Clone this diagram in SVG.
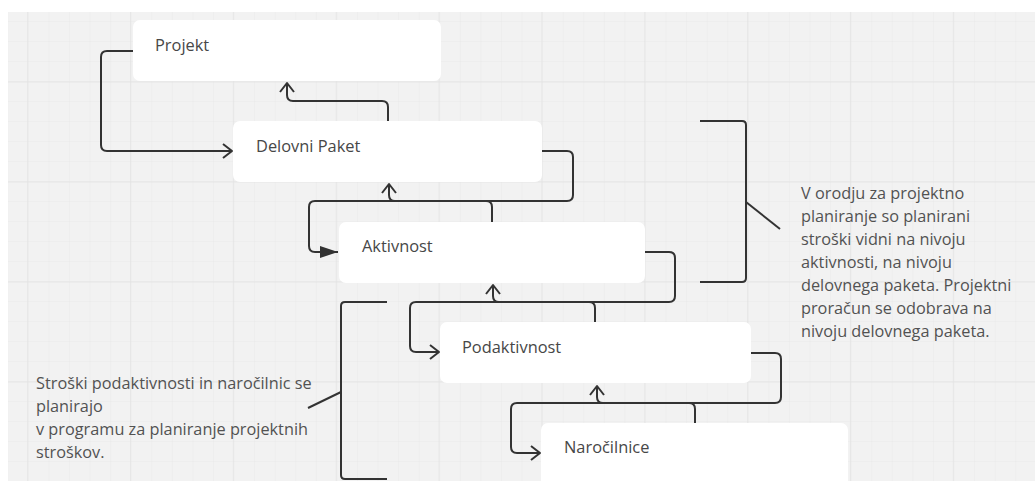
<svg xmlns="http://www.w3.org/2000/svg" width="1035" height="481" viewBox="0 0 1035 481">
  <style>
    .node rect { fill: #ffffff; }
    .label { font-family: "Open Sans", "Liberation Sans", sans-serif; font-size: 16.4px; fill: #474747; }
    .note { font-family: "Open Sans", "Liberation Sans", sans-serif; font-size: 16.3px; fill: #525252; }
    .edge { fill: none; stroke: #333333; stroke-width: 2; stroke-linejoin: round; }
    .brace { fill: none; stroke: #333333; stroke-width: 2; }
  </style>
  <defs>
    <pattern id="minor" x="7.3" y="1" width="20.57" height="20" patternUnits="userSpaceOnUse">
      <path d="M0,0 V20 M0,0 H20.57" fill="none" stroke="#e9e9e9" stroke-width="1"/>
    </pattern>
    <pattern id="major" x="130" y="81.5" width="102.85" height="100" patternUnits="userSpaceOnUse">
      <path d="M0,0 V100 M0,0 H102.85" fill="none" stroke="#e2e2e2" stroke-width="1.4"/>
    </pattern>
    <marker id="chev" viewBox="-12 -10 14 20" refX="0" refY="0" markerWidth="14" markerHeight="20" markerUnits="userSpaceOnUse" orient="auto">
      <path d="M-9,-7 L0,0 L-9,7" fill="none" stroke="#333333" stroke-width="2" stroke-linejoin="round"/>
    </marker>
    <marker id="tri" viewBox="-20 -8 21 16" refX="0" refY="0" markerWidth="21" markerHeight="16" markerUnits="userSpaceOnUse" orient="auto">
      <path d="M-18,-6 L0,0 L-18,6 Z" fill="#333333"/>
    </marker>
  </defs>

  <!-- canvas -->
  <rect width="1035" height="481" fill="#ffffff"/>
  <rect x="8" y="12" width="1027" height="469" fill="#f2f2f2"/>
  <rect x="8" y="12" width="1027" height="469" fill="url(#minor)"/>
  <rect x="8" y="12" width="1027" height="469" fill="url(#major)"/>

  <!-- hierarchy levels -->
  <g id="projekt" class="node">
    <rect x="133" y="20" width="308" height="61" rx="7"/>
    <text class="label" x="155" y="51">Projekt</text>
  </g>
  <g id="delovni-paket" class="node">
    <rect x="233" y="121" width="309" height="61" rx="7"/>
    <text class="label" x="256" y="152">Delovni Paket</text>
  </g>
  <g id="aktivnost" class="node">
    <rect x="339" y="222" width="306" height="61" rx="7"/>
    <text class="label" x="362" y="252">Aktivnost</text>
  </g>
  <g id="podaktivnost" class="node">
    <rect x="440" y="322" width="311" height="61" rx="7"/>
    <text class="label" x="462" y="353">Podaktivnost</text>
  </g>
  <g id="narocilnice" class="node">
    <rect x="541" y="423" width="307" height="70" rx="7"/>
    <text class="label" x="564" y="453">Naročilnice</text>
  </g>

  <!-- connectors between levels -->
  <g id="connectors">
    <path class="edge" marker-end="url(#chev)" d="M133,51 H107 Q101,51 101,57 V145 Q101,151 107,151 H232"/>
    <path class="edge" marker-end="url(#chev)" d="M388,121 V107 Q388,101 382,101 H293 Q287,101 287,95 V83"/>
    <path class="edge" marker-end="url(#tri)" d="M542,151 H567 Q573,151 573,157 V195 Q573,201 567,201 H315 Q309,201 309,207 V246 Q309,252 315,252 H338"/>
    <path class="edge" marker-end="url(#chev)" d="M492,222 V207 Q492,201 486,201 H395 Q389,201 389,195 V184"/>
    <path class="edge" marker-end="url(#chev)" d="M645,252 H669 Q675,252 675,258 V296 Q675,302 669,302 H416 Q410,302 410,308 V346 Q410,352 416,352 H439"/>
    <path class="edge" marker-end="url(#chev)" d="M595,322 V308 Q595,302 589,302 H499 Q493,302 493,296 V285"/>
    <path class="edge" marker-end="url(#chev)" d="M751,353 H775 Q781,353 781,359 V397 Q781,403 775,403 H517 Q511,403 511,409 V447 Q511,453 517,453 H540"/>
    <path class="edge" marker-end="url(#chev)" d="M695,423 V409 Q695,403 689,403 H603 Q597,403 597,397 V386"/>
  </g>

  <!-- right bracket and note -->
  <g id="note-right">
    <path class="brace" d="M700,121 H742 Q746,121 746,125 V278 Q746,282 742,282 H700"/>
    <path class="brace" d="M746,202 L780,229"/>
    <text class="note">
      <tspan x="801" y="199">V orodju za projektno</tspan>
      <tspan x="801" y="222">planiranje so planirani</tspan>
      <tspan x="801" y="245">stroški vidni na nivoju</tspan>
      <tspan x="801" y="268">aktivnosti, na nivoju</tspan>
      <tspan x="801" y="291">delovnega paketa. Projektni</tspan>
      <tspan x="801" y="314">proračun se odobrava na</tspan>
      <tspan x="801" y="337">nivoju delovnega paketa.</tspan>
    </text>
  </g>

  <!-- left bracket and note -->
  <g id="note-left">
    <path class="brace" d="M387,302 H345 Q341,302 341,306 V475 Q341,479 345,479 H387"/>
    <path class="brace" d="M341,392 L308,408"/>
    <text class="note">
      <tspan x="36" y="389">Stroški podaktivnosti in naročilnic se</tspan>
      <tspan x="36" y="412">planirajo</tspan>
      <tspan x="36" y="435">v programu za planiranje projektnih</tspan>
      <tspan x="36" y="458">stroškov.</tspan>
    </text>
  </g>
</svg>
